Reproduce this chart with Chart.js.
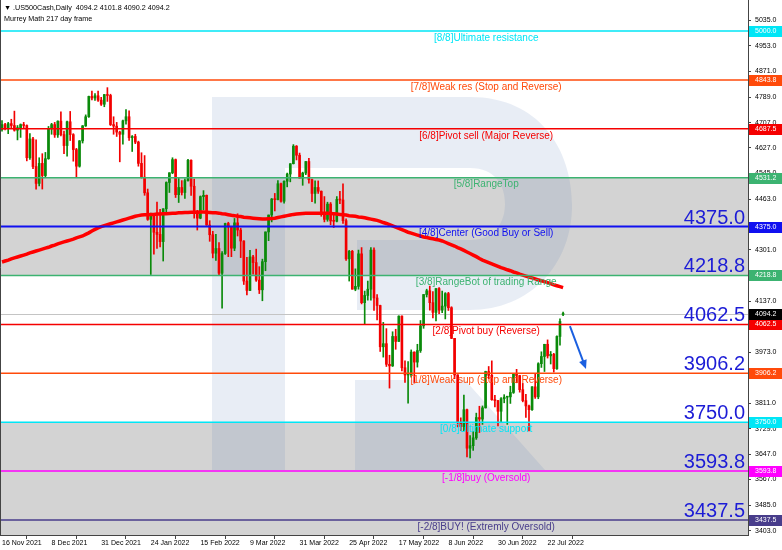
<!DOCTYPE html>
<html>
<head>
<meta charset="utf-8">
<script src="https://cdn.jsdelivr.net/npm/chart.js@4.4.1/dist/chart.umd.min.js"></script>
<style>
  html, body { margin: 0; padding: 0; background: #fff; }
  #wrap { width: 782px; height: 550px; }
</style>
</head>
<body>
<div id="wrap"><canvas id="chart" width="782" height="550"></canvas></div>
<script>
// .US500Cash Daily, one entry per bar (16 Nov 2021 .. 29 Jul 2022)
const openP = [
  4685, 4701, 4689, 4704, 4698, 4683, 4691, 4701, 4698, 4595,
  4655, 4567, 4513, 4577, 4538, 4592, 4687, 4701, 4668, 4712,
  4669, 4634, 4710, 4669, 4621, 4568, 4649, 4697, 4726, 4791,
  4786, 4793, 4779, 4766, 4797, 4794, 4701, 4696, 4677, 4670,
  4713, 4726, 4659, 4663, 4645, 4577, 4533, 4483, 4398, 4410,
  4357, 4350, 4327, 4432, 4516, 4547, 4589, 4477, 4500, 4484,
  4522, 4587, 4504, 4419, 4402, 4471, 4475, 4380, 4349, 4290,
  4305, 4226, 4289, 4385, 4374, 4306, 4387, 4364, 4329, 4201,
  4171, 4278, 4260, 4204, 4173, 4263, 4358, 4412, 4463, 4461,
  4512, 4456, 4520, 4543, 4576, 4632, 4603, 4530, 4546, 4583,
  4525, 4481, 4500, 4488, 4413, 4398, 4447, 4393, 4392, 4462,
  4460, 4394, 4272, 4296, 4175, 4184, 4288, 4132, 4155, 4175,
  4300, 4147, 4123, 3991, 4001, 3935, 3930, 4024, 4008, 4089,
  3924, 3901, 3901, 3974, 3942, 3979, 4058, 4158, 4170, 4132,
  4101, 4177, 4108, 4121, 4161, 4116, 4018, 3901, 3750, 3736,
  3790, 3667, 3675, 3700, 3765, 3760, 3796, 3912, 3900, 3822,
  3819, 3785, 3825, 3830, 3831, 3845, 3903, 3899, 3854, 3819,
  3802, 3790, 3863, 3831, 3937, 3960, 3999, 3962, 3967, 3921,
  4024, 4094.2
];
const highP = [
  4714, 4705, 4708, 4718, 4744, 4698, 4703, 4708, 4700, 4672,
  4660, 4652, 4595, 4608, 4612, 4695, 4705, 4708, 4713, 4742,
  4680, 4712, 4743, 4672, 4625, 4650, 4698, 4732, 4792, 4808,
  4800, 4808, 4788, 4797, 4819, 4798, 4726, 4708, 4680, 4715,
  4749, 4745, 4666, 4670, 4648, 4611, 4602, 4495, 4418, 4412,
  4453, 4430, 4432, 4518, 4547, 4595, 4591, 4529, 4522, 4528,
  4590, 4588, 4527, 4427, 4473, 4490, 4476, 4394, 4360, 4350,
  4324, 4295, 4386, 4389, 4375, 4401, 4416, 4370, 4330, 4277,
  4299, 4283, 4303, 4247, 4271, 4358, 4412, 4465, 4481, 4522,
  4514, 4521, 4546, 4576, 4637, 4634, 4610, 4549, 4583, 4593,
  4527, 4521, 4521, 4489, 4471, 4453, 4452, 4411, 4471, 4488,
  4512, 4400, 4299, 4299, 4240, 4300, 4308, 4169, 4201, 4308,
  4307, 4158, 4124, 4069, 4049, 3964, 4039, 4047, 4090, 4090,
  3946, 3944, 3981, 3975, 3999, 4075, 4158, 4175, 4185, 4167,
  4177, 4180, 4169, 4164, 4165, 4119, 4018, 3902, 3764, 3837,
  3792, 3707, 3720, 3779, 3801, 3802, 3913, 3928, 3946, 3836,
  3820, 3829, 3838, 3832, 3865, 3906, 3919, 3900, 3874, 3839,
  3805, 3864, 3903, 3940, 3975, 3999, 4013, 3976, 3970, 4026,
  4080, 4101.8
];
const lowP = [
  4680, 4684, 4672, 4688, 4680, 4652, 4660, 4690, 4585, 4590,
  4560, 4495, 4505, 4495, 4532, 4590, 4670, 4660, 4660, 4665,
  4608, 4600, 4650, 4584, 4532, 4565, 4642, 4695, 4724, 4780,
  4778, 4775, 4762, 4758, 4775, 4698, 4670, 4663, 4582, 4638,
  4702, 4650, 4615, 4640, 4568, 4530, 4475, 4395, 4222, 4287,
  4305, 4310, 4265, 4420, 4484, 4544, 4468, 4452, 4476, 4465,
  4520, 4475, 4402, 4364, 4400, 4429, 4379, 4328, 4275, 4267,
  4221, 4114, 4286, 4279, 4279, 4298, 4345, 4276, 4190, 4157,
  4170, 4223, 4200, 4161, 4138, 4234, 4330, 4390, 4425, 4460,
  4453, 4450, 4502, 4518, 4575, 4588, 4530, 4507, 4541, 4514,
  4455, 4450, 4481, 4408, 4390, 4392, 4381, 4372, 4390, 4448,
  4385, 4267, 4201, 4175, 4170, 4175, 4128, 4063, 4140, 4140,
  4107, 4077, 3976, 3958, 3928, 3859, 3928, 3983, 4008, 3914,
  3877, 3811, 3894, 3875, 3926, 3973, 4050, 4150, 4108, 4083,
  4074, 4097, 4100, 4080, 4107, 4017, 3889, 3735, 3723, 3723,
  3639, 3636, 3660, 3695, 3717, 3743, 3795, 3889, 3820, 3799,
  3738, 3752, 3812, 3743, 3810, 3842, 3876, 3846, 3815, 3765,
  3722, 3788, 3826, 3825, 3925, 3912, 3955, 3936, 3910, 3919,
  3996, 4090.2
];
const closeP = [
  4701, 4689, 4704, 4698, 4683, 4691, 4701, 4698, 4595, 4655,
  4567, 4513, 4577, 4538, 4592, 4687, 4701, 4668, 4712, 4669,
  4634, 4710, 4669, 4621, 4568, 4649, 4697, 4726, 4791, 4786,
  4793, 4779, 4766, 4797, 4794, 4701, 4696, 4677, 4670, 4713,
  4726, 4659, 4663, 4645, 4577, 4533, 4483, 4398, 4410, 4357,
  4350, 4327, 4432, 4516, 4547, 4589, 4477, 4500, 4484, 4522,
  4587, 4504, 4419, 4402, 4471, 4475, 4380, 4349, 4290, 4305,
  4226, 4289, 4385, 4374, 4306, 4387, 4364, 4329, 4201, 4171,
  4278, 4260, 4204, 4173, 4263, 4358, 4412, 4463, 4461, 4512,
  4456, 4520, 4543, 4576, 4632, 4603, 4530, 4546, 4583, 4525,
  4481, 4500, 4488, 4413, 4398, 4447, 4393, 4392, 4462, 4460,
  4394, 4272, 4296, 4175, 4184, 4288, 4132, 4155, 4175, 4300,
  4147, 4123, 3991, 4001, 3935, 3930, 4024, 4008, 4089, 3924,
  3901, 3901, 3974, 3942, 3979, 4058, 4158, 4170, 4132, 4101,
  4177, 4108, 4121, 4161, 4116, 4018, 3901, 3750, 3736, 3790,
  3667, 3675, 3700, 3765, 3760, 3796, 3912, 3900, 3822, 3819,
  3785, 3825, 3830, 3831, 3845, 3903, 3899, 3854, 3819, 3802,
  3790, 3863, 3831, 3937, 3960, 3999, 3962, 3967, 3921, 4024,
  4072, 4094.2
];

// long moving average (thick red line)
const maLine = [
  4262, 4265, 4268, 4272, 4275, 4278, 4281, 4284, 4287, 4291,
  4294, 4297, 4300, 4303, 4306, 4309, 4313, 4316, 4320, 4323,
  4326, 4329, 4332, 4335, 4339, 4342, 4345, 4350, 4355, 4361,
  4366, 4371, 4375, 4378, 4381, 4384, 4387, 4390, 4393, 4396,
  4399, 4402, 4405, 4408, 4410, 4412, 4413, 4413, 4414, 4414,
  4415, 4415, 4416, 4416, 4417, 4418, 4418, 4419, 4419, 4420,
  4420, 4421, 4421, 4421, 4422, 4422, 4421, 4420, 4419, 4419,
  4418, 4416, 4415, 4413, 4411, 4410, 4408, 4407, 4405, 4404,
  4403, 4402, 4401, 4400, 4399, 4399, 4400, 4401, 4402, 4404,
  4406, 4408, 4410, 4412, 4414, 4415, 4416, 4417, 4418, 4418,
  4418, 4418, 4418, 4418, 4418, 4418, 4417, 4416, 4415, 4414,
  4413, 4412, 4410, 4409, 4408, 4406, 4405, 4403, 4401, 4399,
  4397, 4395, 4392, 4388, 4385, 4381, 4377, 4373, 4369, 4365,
  4361, 4357, 4354, 4351, 4348, 4345, 4342, 4340, 4338, 4336,
  4334, 4332, 4329, 4325, 4321, 4317, 4313, 4308, 4304, 4299,
  4294, 4289, 4284, 4279, 4273, 4268, 4264, 4260, 4256, 4252,
  4248, 4244, 4241, 4237, 4234, 4230, 4227, 4223, 4220, 4217,
  4214, 4211, 4208, 4205, 4202, 4199, 4196, 4193, 4189, 4186,
  4183, 4180
];

// x axis: one label every 16 bars
const xTickLabels = ['16 Nov 2021', '8 Dec 2021', '31 Dec 2021', '24 Jan 2022', '15 Feb 2022', '9 Mar 2022',
  '31 Mar 2022', '25 Apr 2022', '17 May 2022', '8 Jun 2022', '30 Jun 2022', '22 Jul 2022'];
const xTickStep = 16;

// price axis ticks
const yTicks = [5035, 4953, 4871, 4789, 4707, 4627, 4545, 4463, 4381, 4301, 4219,
  4137, 4055, 3973, 3893, 3811, 3729, 3647, 3567, 3485, 3403];

// Murrey Math levels
const murreyLevels = [5000.0, 4843.8, 4687.5, 4531.2, 4375.0, 4218.8, 4062.5, 3906.2, 3750.0, 3593.8, 3437.5];
const murreyNames = ['[8/8]Ultimate resistance', '[7/8]Weak res (Stop and Reverse)', '[6/8]Pivot sell (Major Reverse)',
  '[5/8]RangeTop', '[4/8]Center (Good Buy or Sell)', '[3/8]RangeBot of trading Range', '[2/8]Pivot buy (Reverse)',
  '[1/8]Weak sup (stop and Reverse)', '[0/8]Ultimate support', '[-1/8]buy (Oversold)', '[-2/8]BUY! (Extremly Oversold)'];
const murreyColors = ['#00e6f6', '#ff4a0a', '#f50000', '#3cb371', '#1010f0', '#3cb371', '#f50000',
  '#ff4a0a', '#00e6f6', '#ff00ff', '#483d8b'];
const bigLabelLevels = [4375.0, 4218.8, 4062.5, 3906.2, 3750.0, 3593.8, 3437.5];
// shaded zones [upper, lower]; null = down to the bottom edge
const grayZones = [[4531.2, 4218.8], [3750.0, null]];

const lastBar = { open: 4094.2, high: 4101.8, low: 4090.2, close: 4094.2 };
// forecast arrow [bar index, price]
const arrowFrom = [183.2, 4057];
const arrowTo = [188.4, 3920];

const bullColor = '#0a8a0a';
const bearColor = '#f20000';

const bodyPoints = openP.map((o, i) => ({ x: i, y: [o, closeP[i]] }));
const wickPoints = lowP.map((l, i) => ({ x: i, y: [l, highP[i]] }));
const maPoints = maLine.map((v, i) => ({ x: i, y: v }));
const candleColor = c => (closeP[c.dataIndex] >= openP[c.dataIndex] ? bullColor : bearColor);

Chart.defaults.font.family = "'Liberation Sans', Arial, sans-serif";
Chart.defaults.font.size = 7;
Chart.defaults.color = '#000';

function drawWatermark(ctx, a) {
  // faint "R" logo behind the candles
  const sx = (a.right - a.left) / 748, sy = (a.bottom - a.top) / 535;
  const X = v => a.left + v * sx, Y = v => a.top + v * sy;
  ctx.fillStyle = 'rgba(90, 130, 185, 0.14)';
  ctx.beginPath();
  ctx.rect(X(212), Y(97), X(285) - X(212), Y(470) - Y(97));
  ctx.moveTo(X(285), Y(97));
  ctx.lineTo(X(470), Y(97));
  ctx.bezierCurveTo(X(540), Y(97), X(572), Y(150), X(572), Y(205));
  ctx.bezierCurveTo(X(572), Y(265), X(530), Y(310), X(470), Y(310));
  ctx.lineTo(X(357), Y(310));
  ctx.lineTo(X(357), Y(240));
  ctx.lineTo(X(470), Y(240));
  ctx.bezierCurveTo(X(495), Y(240), X(505), Y(222), X(505), Y(204));
  ctx.bezierCurveTo(X(505), Y(185), X(495), Y(168), X(470), Y(168));
  ctx.lineTo(X(285), Y(168));
  ctx.closePath();
  ctx.moveTo(X(355), Y(380));
  ctx.lineTo(X(465), Y(380));
  ctx.lineTo(X(545), Y(470));
  ctx.lineTo(X(355), Y(470));
  ctx.closePath();
  ctx.fill();
}

const murreyPlugin = {
  id: 'murrey',
  beforeDatasetsDraw(chart) {
    const { ctx, chartArea: a, scales: { y } } = chart;
    ctx.save();
    ctx.fillStyle = '#d3d3d3';
    grayZones.forEach(([top, bottom]) => {
      const y1 = y.getPixelForValue(top);
      const y2 = bottom === null ? a.bottom : y.getPixelForValue(bottom);
      ctx.fillRect(a.left, y1, a.right - a.left, y2 - y1);
    });
    drawWatermark(ctx, a);
    // current price line
    const py = Math.round(y.getPixelForValue(lastBar.close)) + 0.5;
    ctx.strokeStyle = '#c4c4c4';
    ctx.lineWidth = 1;
    ctx.beginPath();
    ctx.moveTo(a.left, py);
    ctx.lineTo(a.right, py);
    ctx.stroke();
    ctx.restore();
  },
  afterDatasetsDraw(chart) {
    const { ctx, chartArea: a, scales: { x, y } } = chart;
    const w = a.right - a.left;
    ctx.save();

    // level lines + captions
    murreyLevels.forEach((lvl, k) => {
      const py = y.getPixelForValue(lvl);
      ctx.strokeStyle = murreyColors[k];
      ctx.lineWidth = lvl === 4375.0 ? 2 : 1.5;
      ctx.beginPath();
      ctx.moveTo(a.left, py);
      ctx.lineTo(a.right, py);
      ctx.stroke();
      ctx.fillStyle = murreyColors[k];
      ctx.font = "10px 'Liberation Sans', Arial, sans-serif";
      ctx.textAlign = 'center';
      ctx.textBaseline = 'middle';
      ctx.fillText(murreyNames[k], a.left + w * 0.65, py + 7);
    });

    // big blue price labels above the lower levels
    ctx.fillStyle = '#1c1cd6';
    ctx.font = "20px 'Liberation Sans', Arial, sans-serif";
    ctx.textAlign = 'right';
    ctx.textBaseline = 'alphabetic';
    bigLabelLevels.forEach(lvl => {
      ctx.fillText(lvl.toFixed(1), a.right - 3, y.getPixelForValue(lvl) - 3);
    });

    // forecast arrow
    const x1 = x.getPixelForValue(arrowFrom[0]), y1 = y.getPixelForValue(arrowFrom[1]);
    const x2 = x.getPixelForValue(arrowTo[0]), y2 = y.getPixelForValue(arrowTo[1]);
    const ang = Math.atan2(y2 - y1, x2 - x1);
    ctx.strokeStyle = '#1a5fe0';
    ctx.fillStyle = '#1a5fe0';
    ctx.lineWidth = 2;
    ctx.beginPath();
    ctx.moveTo(x1, y1);
    ctx.lineTo(x2 - 6 * Math.cos(ang), y2 - 6 * Math.sin(ang));
    ctx.stroke();
    ctx.beginPath();
    ctx.moveTo(x2, y2);
    ctx.lineTo(x2 - 9 * Math.cos(ang) + 4 * Math.sin(ang), y2 - 9 * Math.sin(ang) - 4 * Math.cos(ang));
    ctx.lineTo(x2 - 9 * Math.cos(ang) - 4 * Math.sin(ang), y2 - 9 * Math.sin(ang) + 4 * Math.cos(ang));
    ctx.closePath();
    ctx.fill();

    // frame
    ctx.strokeStyle = '#444';
    ctx.lineWidth = 1;
    ctx.beginPath();
    ctx.moveTo(a.left + 0.5, a.top);
    ctx.lineTo(a.left + 0.5, a.bottom + 0.5);
    ctx.lineTo(a.right + 0.5, a.bottom + 0.5);
    ctx.lineTo(a.right + 0.5, a.top);
    ctx.stroke();

    // coloured price boxes on the axis
    ctx.font = "7px 'Liberation Sans', Arial, sans-serif";
    ctx.textAlign = 'left';
    ctx.textBaseline = 'middle';
    const boxes = murreyLevels.map((lvl, k) => [lvl, murreyColors[k]]);
    boxes.push([lastBar.close, '#000']);
    boxes.forEach(([lvl, col]) => {
      const py = Math.round(y.getPixelForValue(lvl));
      ctx.fillStyle = col;
      ctx.fillRect(a.right + 1, py - 5, 33, 11);
      ctx.fillStyle = '#fff';
      ctx.fillText(lvl.toFixed(1), a.right + 7, py + 0.5);
    });

    // header
    ctx.fillStyle = '#000';
    ctx.font = "7.2px 'Liberation Sans', 'DejaVu Sans', sans-serif";
    ctx.textBaseline = 'middle';
    ctx.fillText('\u25BC .US500Cash,Daily  ' + [lastBar.open, lastBar.high, lastBar.low, lastBar.close].map(v => v.toFixed(1)).join(' '), 4, 8);
    ctx.fillText('Murrey Math 217 day frame', 4, 19);
    ctx.restore();
  }
};

new Chart(document.getElementById('chart'), {
  data: {
    datasets: [
      { type: 'line', data: maPoints, borderColor: '#ff0000', borderWidth: 3.5, pointRadius: 0, order: 0 },
      { type: 'bar', data: bodyPoints, backgroundColor: candleColor, barThickness: 2, minBarLength: 1, grouped: false, order: 1 },
      { type: 'bar', data: wickPoints, backgroundColor: candleColor, barThickness: 1, grouped: false, order: 2 }
    ]
  },
  options: {
    responsive: false,
    animation: false,
    layout: { padding: 0 },
    plugins: { legend: { display: false }, tooltip: { enabled: false } },
    scales: {
      x: {
        type: 'linear',
        min: -0.645,
        max: 240.65,
        offset: false,
        afterBuildTicks: s => { s.ticks = xTickLabels.map((_, k) => ({ value: k * xTickStep })); },
        afterFit: s => { s.height = 15; s.paddingLeft = 0; s.paddingRight = 0; },
        ticks: {
          autoSkip: false, maxRotation: 0, align: 'start', padding: 0,
          callback: v => xTickLabels[Math.round(v / xTickStep)]
        },
        grid: { drawOnChartArea: false, tickLength: 4, color: '#444' },
        border: { color: '#444' }
      },
      y: {
        position: 'right',
        min: 3389.6,
        max: 5099.05,
        afterBuildTicks: s => { s.ticks = yTicks.map(v => ({ value: v })); },
        afterFit: s => { s.width = 34; s.paddingTop = 0; s.paddingBottom = 0; },
        ticks: { padding: 4, callback: v => v.toFixed(1) },
        grid: { drawOnChartArea: false, tickLength: 3, color: '#444' },
        border: { color: '#444' }
      }
    }
  },
  plugins: [murreyPlugin]
});
</script>
</body>
</html>
